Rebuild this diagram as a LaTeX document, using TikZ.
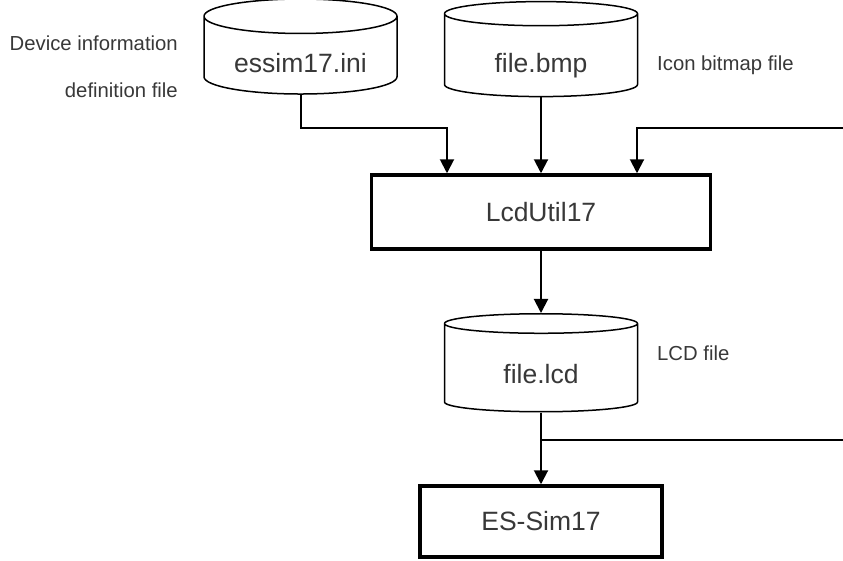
\documentclass[tikz,border=0pt]{standalone}
\usepackage{fontspec}
\setmainfont{Liberation Sans}
\usetikzlibrary{arrows.meta,shapes.geometric}
\definecolor{txtgray}{HTML}{383838}

\begin{document}
\begin{tikzpicture}[x=1pt,y=-1pt,line join=miter,
    >={Triangle[width=14pt,length=14pt]},
    db/.style={cylinder,shape border rotate=90,aspect=0.26,draw,line width=1.5pt,
      minimum width=193pt,minimum height=95pt,inner sep=0pt,
      text height=33pt,text depth=0pt,
      text=txtgray,font=\fontsize{26.5}{30}\selectfont},
    prog/.style={rectangle,draw,line width=3.5pt,inner sep=0pt,
      text=txtgray,font=\fontsize{26.5}{30}\selectfont},
    note/.style={text=txtgray,font=\fontsize{20.3}{24}\selectfont,inner sep=0pt},
    flow/.style={->,line width=2pt}]
  \useasboundingbox (0,0) rectangle (843,560);

  % --- input files ---
  \node[db] (ini) at (300.5,55.5) {essim17.ini};
  \node[db] (bmp) at (541,55.5) {file.bmp};
  \node[note,anchor=east] (iniNote1) at (178,43) {Device information};
  \node[note,anchor=east] (iniNote2) at (178,90) {definition file};
  \node[note,anchor=west] (bmpNote) at (657,65) {Icon bitmap file};

  % --- converter ---
  \node[prog,minimum width=339pt,minimum height=74pt] (util) at (541,212) {LcdUtil17};

  % --- output file ---
  \node[db,minimum height=98pt,text height=30pt] (lcd) at (541,368) {file.lcd};
  \node[note,anchor=west] (lcdNote) at (657,353) {LCD file};

  % --- simulator ---
  \node[prog,minimum width=242pt,minimum height=71pt] (sim) at (541,521.5) {ES-Sim17};

  % --- connectors ---
  \coordinate (iniTurn) at (447,128);
  \coordinate (extIn) at (843,128);
  \coordinate (extTurn) at (637,128);
  \coordinate (lcdOut) at (843,440);
  \draw[flow] (ini.south) |- (iniTurn) -- (iniTurn |- util.north);
  \draw[flow] (bmp.south) -- (bmp.south |- util.north);
  \draw[flow] (extIn) -- (extTurn) -- (extTurn |- util.north);
  \draw[flow] (util.south) -- (lcd.north);
  \draw[flow] (lcd.south) -- (lcd.south |- sim.north);
  \draw[line width=1.3pt] (lcd.south |- lcdOut) -- (lcdOut);
\end{tikzpicture}
\end{document}
